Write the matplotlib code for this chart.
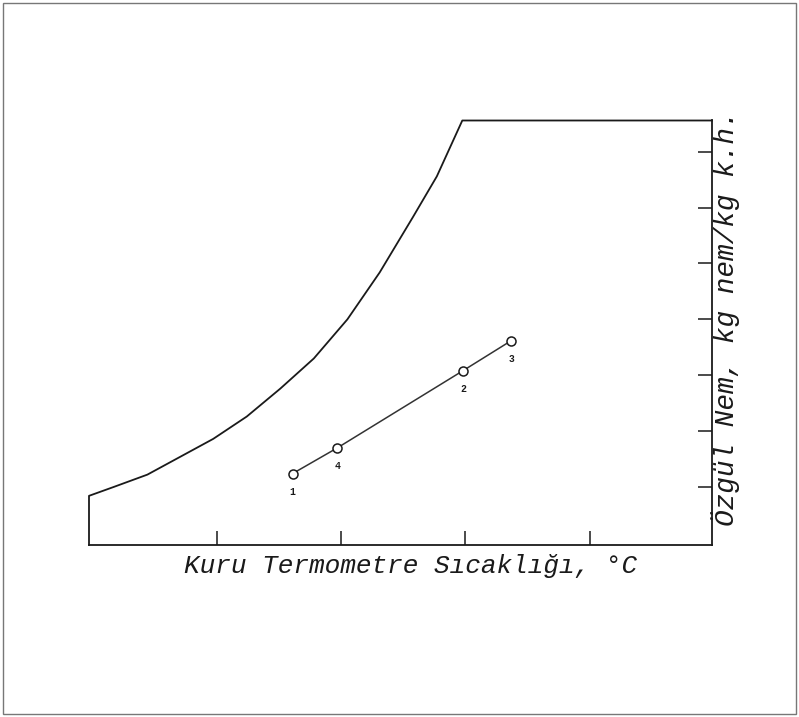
import matplotlib
matplotlib.use("Agg")
import matplotlib.pyplot as plt
from matplotlib.patches import Rectangle

# saturation curve (dry bulb temperature, specific humidity)
sat_t = [-0.3, 1.7, 4.4, 7.05, 9.7, 12.4, 15.1, 17.8, 20.5, 23.1, 25.8, 27.7, 29.75]
sat_w = [0.0042, 0.0050, 0.0061, 0.0077, 0.0093, 0.0113, 0.0138, 0.0165, 0.0200, 0.0242, 0.0292, 0.0328, 0.0378]

# process states, in the order they are joined
state_labels = ["1", "4", "2", "3"]
state_t = [16.1, 19.7, 29.8, 33.7]
state_w = [0.0062, 0.0085, 0.0154, 0.0181]

x_ticks = [10, 20, 30, 40]
y_ticks = [0.005, 0.010, 0.015, 0.020, 0.025, 0.030, 0.035]
t_min, t_max = -0.3, 49.85
w_min, w_max = -0.0002, 0.0378

fig = plt.figure(figsize=(7.99, 7.17), dpi=100)
ax = fig.add_axes([89 / 799, 172 / 717, 623 / 799, 424.5 / 717])
ax.set_xlim(t_min, t_max)
ax.set_ylim(w_min, w_max)

ink = "#1a1a1a"

# outline: left edge, saturation curve, top edge
ox = [t_min] + sat_t + [t_max]
oy = [w_min] + sat_w + [w_max]
ax.plot(ox, oy, color=ink, lw=1.3, clip_on=False, solid_joinstyle="round")

for side in ["top", "left"]:
    ax.spines[side].set_visible(False)
for side in ["bottom", "right"]:
    ax.spines[side].set_color(ink)
    ax.spines[side].set_linewidth(1.3)

ax.yaxis.tick_right()
ax.set_xticks(x_ticks)
ax.set_yticks(y_ticks)
ax.tick_params(axis="both", direction="in", length=9.8, width=1.1, color=ink,
               labelbottom=False, labelright=False, labelleft=False)

ax.plot(state_t, state_w, color="#333333", lw=1.1, marker="o", ms=6.5,
        mfc="white", mec=ink, mew=1.1)
for lab, t, w in zip(state_labels, state_t, state_w):
    ax.annotate(lab, (t, w), xytext=(0, -13), textcoords="offset points",
                ha="center", va="center", fontsize=7, color=ink,
                family="Liberation Mono", fontweight="bold")

mono = "Liberation Mono"
fig.text(411 / 799, 1 - 566 / 717, "Kuru Termometre Sıcaklığı, °C",
         ha="center", va="center", fontsize=18.8, style="italic",
         family=mono, color=ink)
fig.text(726 / 799, 1 - 318 / 717, "Özgül Nem, kg nem/kg k.h.",
         ha="center", va="center", rotation=90, fontsize=20, style="italic",
         family=mono, color=ink)

# border of the scanned page
fig.patches.append(Rectangle((3 / 799, 3 / 717), 793 / 799, 711 / 717,
                             transform=fig.transFigure, fill=False,
                             edgecolor="#777777", lw=1.0))

fig.savefig("out.png", dpi=100)
